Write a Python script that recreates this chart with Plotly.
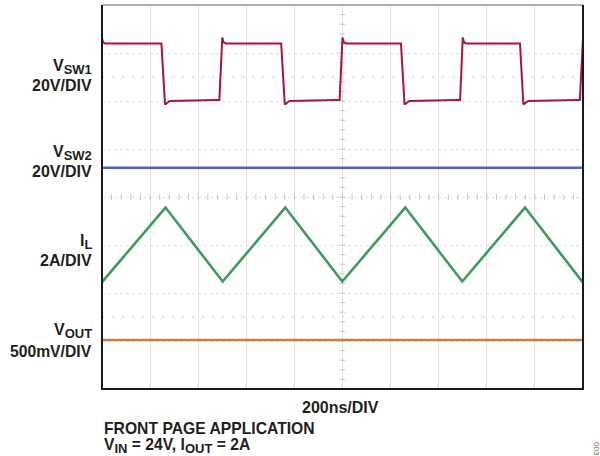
import plotly.graph_objects as go

# Scope screen: 10 horizontal divisions at 200 ns/DIV, 8 vertical divisions
NS_PER_DIV = 200
X_DIVS = 10
Y_DIVS = 8

# V_SW1 switch node (20 V/DIV), offset to 6 div
t_sw1 = [0, 5, 14, 247, 262, 268, 282, 476, 488, 500, 506, 516,
         745, 760, 766, 780, 976, 988, 1000, 1006, 1016,
         1243, 1258, 1264, 1278, 1476, 1489, 1500, 1506, 1516,
         1738, 1752, 1758, 1772, 1975, 1987, 2000]
v_sw1 = [7.30, 7.22, 7.20, 7.20, 5.93, 5.95, 6.00, 6.02, 6.02, 7.32, 7.22, 7.20,
         7.20, 5.93, 5.95, 6.00, 6.02, 6.02, 7.32, 7.22, 7.20,
         7.20, 5.93, 5.95, 6.00, 6.02, 6.02, 7.32, 7.22, 7.20,
         7.20, 5.93, 5.95, 6.00, 6.02, 6.02, 7.30]

# V_SW2 (20 V/DIV)
t_sw2 = [0, 2000]
v_sw2 = [4.61, 4.61]

# Inductor current I_L (2 A/DIV)
t_il = [0, 4, 264, 502, 762, 999, 1261, 1498, 1759, 1996, 2000]
v_il = [2.27, 2.25, 3.78, 2.24, 3.78, 2.24, 3.78, 2.24, 3.78, 2.24, 2.27]

# Output voltage V_OUT (500 mV/DIV)
t_out = [0, 2000]
v_out = [1.02, 1.02]

C_SW1 = "#a8163e"
C_SW2 = "#4a66b4"
C_IL = "#3f9a5c"
C_OUT = "#c8823e"
TXT = "#231f20"
FONT = "Liberation Sans, Arial, sans-serif"

W, H = 600, 456
L, R, T, B = 102, 17, 5, 67
PW, PH = W - L - R, H - T - B


def px(x):
    return (x - L) / PW


def py(y):
    return (H - B - y) / PH


fig = go.Figure()

# minor ticks on the centre crosshair (5 per division)
x_max = NS_PER_DIV * X_DIVS
tick_x, tick_y = [], []
for i in range(X_DIVS * 5 + 1):
    x = i * NS_PER_DIV / 5
    tick_x += [x, x, None]
    tick_y += [Y_DIVS / 2 - 0.06, Y_DIVS / 2 + 0.06, None]
for i in range(Y_DIVS * 5 + 1):
    y = i / 5
    tick_x += [x_max / 2 - 12, x_max / 2 + 12, None]
    tick_y += [y, y, None]
fig.add_trace(go.Scatter(x=tick_x, y=tick_y, mode="lines",
                         line=dict(color="#c4c4c4", width=1),
                         hoverinfo="skip", showlegend=False))

# extra dotted reference lines
for yref in [6.5, 1.5]:
    fig.add_shape(type="line", xref="x", yref="y", x0=0, x1=x_max, y0=yref, y1=yref,
                  line=dict(color="#c8c8c8", width=1, dash="2px,8px"), layer="below")

for xs, ys, col, w in [(t_out, v_out, C_OUT, 2.6), (t_il, v_il, C_IL, 2.6),
                       (t_sw2, v_sw2, C_SW2, 2.4), (t_sw1, v_sw1, C_SW1, 2.0)]:
    fig.add_trace(go.Scatter(x=xs, y=ys, mode="lines",
                             line=dict(color=col, width=w),
                             hoverinfo="skip", showlegend=False))

# frame: dark on left, right and bottom, grey on top
fig.add_shape(type="line", xref="paper", yref="paper", x0=0, x1=1, y0=1, y1=1,
              line=dict(color="#9a9a9a", width=1.5))
fig.add_shape(type="path", xref="paper", yref="paper",
              path="M 0 1 L 0 0 L 1 0 L 1 1", line=dict(color="#1a1a1a", width=2))

ann = []


def label(x, y, text, size=16, anchor="right", color=TXT, angle=0):
    ann.append(dict(x=px(x), y=py(y), xref="paper", yref="paper", text=text,
                    showarrow=False, xanchor=anchor, yanchor="middle",
                    textangle=angle,
                    font=dict(family=FONT, size=size, color=color)))


SUB = "<sub><span style='font-size:13px'>{}</span></sub>"
label(94, 67, "<b>V" + SUB.format("<b>SW1</b>") + "</b>")
label(94, 85, "<b>20V/DIV</b>")
label(94, 153, "<b>V" + SUB.format("<b>SW2</b>") + "</b>")
label(94, 171, "<b>20V/DIV</b>")
label(94, 242, "<b>I" + SUB.format("<b>L</b>") + "</b>")
label(94, 260, "<b>2A/DIV</b>")
label(94, 331, "<b>V" + SUB.format("<b>OUT</b>") + "</b>")
label(94, 351, "<b>500mV/DIV</b>", size=15.7)
label(340, 407, "<b>200ns/DIV</b>", anchor="center")
label(102, 428, "<b>FRONT PAGE APPLICATION</b>", size=15.7, anchor="left")
label(102, 446, "<b>V" + SUB.format("<b>IN</b>") + " = 24V, I" + SUB.format("<b>OUT</b>") + " = 2A</b>",
      size=15.7, anchor="left")
label(597, 449, "003", size=8, anchor="center", color="#666666", angle=90)

fig.update_layout(
    width=W, height=H,
    margin=dict(l=L, r=R, t=T, b=B, pad=0),
    paper_bgcolor="white", plot_bgcolor="white",
    annotations=ann,
    xaxis=dict(range=[0, x_max], dtick=NS_PER_DIV, showgrid=True,
               gridcolor="#e2e2e2", gridwidth=1, showticklabels=False,
               zeroline=False, showline=False, ticks="", fixedrange=True),
    yaxis=dict(range=[0, Y_DIVS], dtick=1, showgrid=True,
               gridcolor="#e2e2e2", gridwidth=1, griddash="dot",
               showticklabels=False, zeroline=False, showline=False,
               ticks="", fixedrange=True),
)

fig.write_html("out.html")
